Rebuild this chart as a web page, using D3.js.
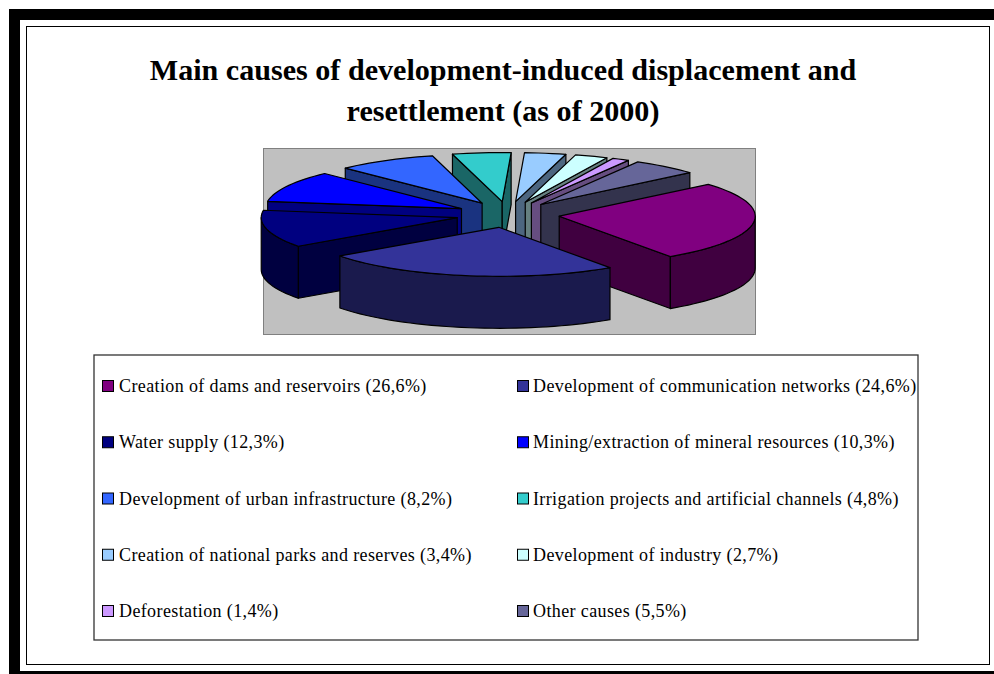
<!DOCTYPE html>
<html lang="en">
<head>
    <meta charset="utf-8">
    <title>Main causes of displacement</title>
    <script src="https://d3js.org/d3.v7.min.js"></script>
    <style>
        body { margin: 0; background: #fff; }
        svg { display: block; }
    </style>
</head>
<body>
<svg width="994" height="674"></svg>
<script>
    var titleLines = ["Main causes of development-induced displacement and", "resettlement (as of 2000)"];
    var categories = ["Creation of dams and reservoirs", "Development of communication networks", "Water supply",
        "Mining/extraction of mineral resources", "Development of urban infrastructure",
        "Irrigation projects and artificial channels", "Creation of national parks and reserves",
        "Development of industry", "Deforestation", "Other causes"];
    var values = [26.6, 24.6, 12.3, 10.3, 8.2, 4.8, 3.4, 2.7, 1.4, 5.5];
    var colors = ["#800080", "#333399", "#000080", "#0000ff", "#3366ff", "#33cccc", "#99ccff", "#ccffff", "#cc99ff", "#666699"];

    var svg = d3.select("svg");

    // page frame
    svg.append("rect").attr("x", 9).attr("y", 9).attr("width", 985).attr("height", 11).attr("fill", "#000");
    svg.append("rect").attr("x", 9).attr("y", 9).attr("width", 11).attr("height", 665).attr("fill", "#000");
    svg.append("rect").attr("x", 9).attr("y", 671).attr("width", 985).attr("height", 3).attr("fill", "#000");
    svg.append("rect").attr("x", 26.5).attr("y", 26.5).attr("width", 963).attr("height", 638)
        .attr("fill", "#fff").attr("stroke", "#000");

    // title
    svg.selectAll(".title")
        .data(titleLines)
        .enter()
        .append("text")
        .attr("class", "title")
        .attr("x", 503)
        .attr("y", function(d, i){ return 80 + i * 41; })
        .attr("text-anchor", "middle")
        .attr("font-family", "Liberation Serif")
        .attr("font-weight", "bold")
        .attr("font-size", 30.1)
        .text(function(d){ return d; });

    // plot area
    svg.append("rect").attr("x", 263.5).attr("y", 148.5).attr("width", 492).attr("height", 186)
        .attr("fill", "#c0c0c0").attr("stroke", "#808080");

    // 3d pie: unit circle -> flattened ellipse on screen
    var radius = 196, tilt = 0.25, depth = 52, explode = 0.265;
    var cx = 507.7, cy = 214.5;
    var firstAngle = 49.5;
    var xScale = d3.scaleLinear().domain([-1, 1]).range([cx - radius, cx + radius]);
    var yScale = d3.scaleLinear().domain([-1, 1]).range([cy - radius * tilt, cy + radius * tilt]);

    var pie = d3.pie().sort(null).startAngle(firstAngle * Math.PI / 180).endAngle((firstAngle + 360) * Math.PI / 180);
    var pieData = pie(values);

    var line = d3.line()
        .x(function(d){ return xScale(d[0]); })
        .y(function(d){ return yScale(d[1]) + (d[2] || 0); });

    // angle 0 is up, clockwise, same as d3.pie
    function rim(a, h){ return [Math.sin(a), -Math.cos(a), h]; }

    function arcAngles(a0, a1){
        var n = Math.max(2, Math.ceil((a1 - a0) / 0.04));
        return d3.range(n + 1).map(function(i){ return a0 + (a1 - a0) * i / n; });
    }

    function facing(a){ return -Math.cos(a) > 0; }

    function shade(c){
        var r = d3.rgb(c);
        return d3.rgb(r.r / 2, r.g / 2, r.b / 2).formatHex();
    }

    // far slices first
    var order = pieData.slice().sort(function(a, b){
        var ma = (a.startAngle + a.endAngle) / 2, mb = (b.startAngle + b.endAngle) / 2;
        return Math.cos(mb) - Math.cos(ma);
    });

    var gs = svg.selectAll(".slice")
        .data(order)
        .enter()
        .append("g")
        .attr("class", "slice")
        .attr("stroke", "#000")
        .attr("stroke-width", 1.2)
        .attr("stroke-linejoin", "round")
        .attr("transform", function(d){
            var m = (d.startAngle + d.endAngle) / 2;
            var dx = xScale(Math.sin(m) * explode) - xScale(0);
            var dy = yScale(-Math.cos(m) * explode) - yScale(0);
            return "translate(" + dx + "," + dy + ")";
        });

    gs.each(function(d){
        var g = d3.select(this);
        var side = shade(colors[d.index]);

        function wall(a){
            g.append("path")
                .attr("fill", side)
                .attr("d", line([[0, 0, 0], rim(a, 0), rim(a, depth), [0, 0, depth]]) + "Z");
        }
        if (facing(d.startAngle - Math.PI / 2)) wall(d.startAngle);
        if (facing(d.endAngle + Math.PI / 2)) wall(d.endAngle);

        // outer skin, only the half turned to the viewer
        [[Math.PI / 2, 3 * Math.PI / 2], [Math.PI / 2 + 2 * Math.PI, 3 * Math.PI / 2 + 2 * Math.PI]].forEach(function(w){
            var a0 = Math.max(d.startAngle, w[0]), a1 = Math.min(d.endAngle, w[1]);
            if (a1 <= a0) return;
            var angles = arcAngles(a0, a1);
            var pts = angles.map(function(a){ return rim(a, 0); })
                .concat(angles.slice().reverse().map(function(a){ return rim(a, depth); }));
            g.append("path").attr("fill", side).attr("d", line(pts) + "Z");
        });

        var top = [[0, 0, 0]].concat(arcAngles(d.startAngle, d.endAngle).map(function(a){ return rim(a, 0); }));
        g.append("path").attr("fill", colors[d.index]).attr("d", line(top) + "Z");
    });

    // legend
    svg.append("rect").attr("x", 94).attr("y", 355).attr("width", 824).attr("height", 285)
        .attr("fill", "#fff").attr("stroke", "#333").attr("stroke-width", 1.3);

    var colX = d3.scaleOrdinal().domain([0, 1]).range([102, 517]);
    var rowY = d3.scaleLinear().domain([0, 4]).range([386, 611]);

    var items = svg.selectAll(".legend")
        .data(categories)
        .enter()
        .append("g")
        .attr("class", "legend")
        .attr("transform", function(d, i){
            return "translate(" + colX(i % 2) + "," + rowY(Math.floor(i / 2)) + ")";
        });

    items.append("rect")
        .attr("x", 0.5).attr("y", -5.5).attr("width", 11).attr("height", 11)
        .attr("fill", function(d, i){ return colors[i]; })
        .attr("stroke", "#000");

    items.append("text")
        .attr("x", function(d, i){ return i % 2 ? 16 : 17; })
        .attr("y", 6)
        .attr("font-family", "Liberation Serif")
        .attr("font-size", 18)
        .attr("letter-spacing", 0.38)
        .text(function(d, i){ return d + " (" + String(values[i]).replace(".", ",") + "%)"; });
</script>
</body>
</html>
